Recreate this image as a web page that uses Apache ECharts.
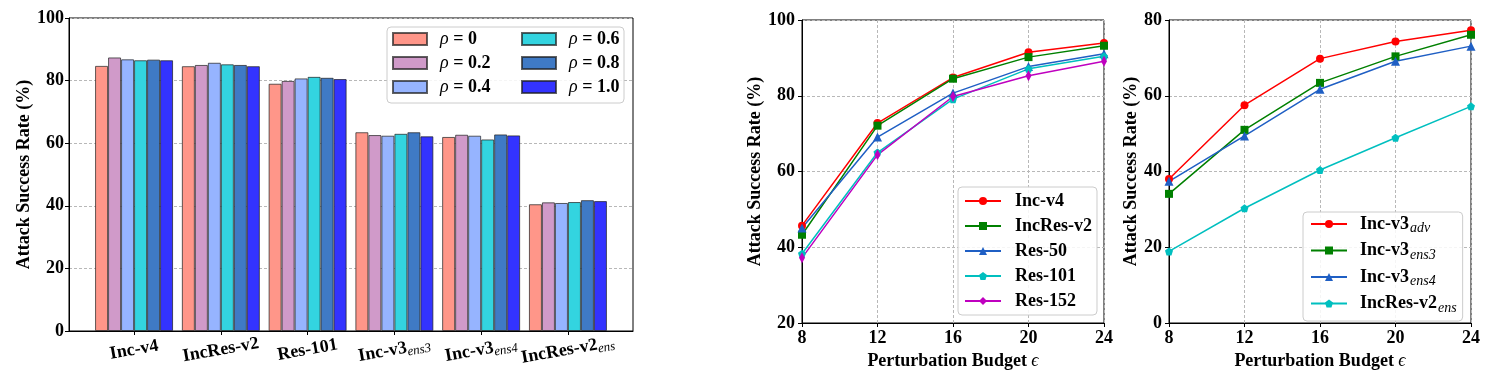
<!DOCTYPE html>
<html>
<head>
<meta charset="utf-8">
<script src="https://cdn.jsdelivr.net/npm/echarts@6/dist/echarts.min.js"></script>
<style>
  html, body { margin: 0; padding: 0; background: #fff; }
  #main { width: 1490px; height: 376px; }
</style>
</head>
<body>
<div id="main"></div>
<script>
// left panel: bars per target model, one series per rho
var categories = ['Inc-v4', 'IncRes-v2', 'Res-101', 'Inc-v3|ens3', 'Inc-v3|ens4', 'IncRes-v2|ens'];
var rhoNames = ['ρ = 0', 'ρ = 0.2', 'ρ = 0.4', 'ρ = 0.6', 'ρ = 0.8', 'ρ = 1.0'];
var rho00 = [84.7, 84.6, 79.0, 63.5, 62.0, 40.5];
var rho02 = [87.4, 85.0, 79.9, 62.6, 62.7, 41.1];
var rho04 = [86.8, 85.7, 80.7, 62.4, 62.4, 40.9];
var rho06 = [86.5, 85.2, 81.2, 63.0, 61.2, 41.2];
var rho08 = [86.7, 85.0, 80.9, 63.5, 62.8, 41.8];
var rho10 = [86.5, 84.6, 80.5, 62.2, 62.5, 41.5];
var barTicks = [0, 20, 40, 60, 80, 100];

// middle / right panels: success rate vs perturbation budget
var budgets = [8, 12, 16, 20, 24];
var incV4 = [45.7, 72.8, 84.8, 91.5, 93.9];
var incResV2 = [43.3, 72.1, 84.5, 90.2, 93.2];
var res50 = [45.1, 69.1, 80.7, 87.7, 91.1];
var res101 = [38.3, 65.0, 79.1, 87.1, 90.4];
var res152 = [37.2, 64.4, 79.8, 85.3, 89.1];
var incV3adv = [38.0, 57.5, 69.8, 74.3, 77.3];
var incV3ens3 = [34.1, 51.0, 63.4, 70.4, 76.1];
var incV3ens4 = [37.4, 49.4, 61.7, 69.1, 73.1];
var incResV2ens = [18.9, 30.3, 40.4, 48.9, 57.2];

var FONT = "'Liberation Serif', 'Times New Roman', serif";
var rich = {
  s: { fontFamily: FONT, fontSize: 14, fontStyle: 'italic', fontWeight: 'normal', color: '#000', padding: [9, 0, 0, 1] },
  r: { fontFamily: FONT, fontSize: 18, fontStyle: 'italic', fontWeight: 'normal', color: '#000' }
};
// axis labels sit close together, keep their subscripts a bit smaller
var axisRich = {
  s: { fontFamily: FONT, fontSize: 13, fontStyle: 'italic', fontWeight: 'normal', color: '#000', padding: [9, 0, 0, 0] }
};
function subLabel(name) {
  var parts = name.split('|');
  return parts.length > 1 ? parts[0] + '{s|' + parts[1] + '}' : name;
}
function pairs(xs, ys) {
  var out = [];
  for (var i = 0; i < ys.length; i++) out.push([xs[i], ys[i]]);
  return out;
}

var chart = echarts.init(document.getElementById('main'), null, { renderer: 'canvas' });

var textBase = { fontFamily: FONT, fontSize: 18, fontWeight: 'bold', color: '#000' };
var gridLine = { show: true, lineStyle: { color: '#b8b8b8', type: [3, 2], width: 1 } };

function lineXAxis(idx) {
  return {
    type: 'value', gridIndex: idx, min: 8, max: 24, interval: 4,
    name: 'Perturbation Budget {e|ϵ}', nameLocation: 'middle', nameGap: 24,
    nameTextStyle: Object.assign({}, textBase, { rich: { e: { fontFamily: FONT, fontSize: 18, fontStyle: 'italic', fontWeight: 'normal' } } }),
    axisLine: { onZero: false, lineStyle: { color: '#000', width: 1 } },
    axisTick: { length: 4, lineStyle: { color: '#000' } },
    axisLabel: Object.assign({}, textBase, { margin: 6 }),
    splitLine: gridLine
  };
}
function lineYAxis(idx, min, max, gap) {
  return {
    type: 'value', gridIndex: idx, min: min, max: max, interval: 20,
    name: 'Attack Success Rate (%)', nameLocation: 'middle', nameGap: gap,
    nameTextStyle: textBase,
    axisLine: { onZero: false, lineStyle: { color: '#000', width: 1 } },
    axisTick: { length: 4, lineStyle: { color: '#000' } },
    axisLabel: Object.assign({}, textBase, { margin: 7 }),
    splitLine: gridLine
  };
}

var barColors = ['#FF9689', '#D09AC9', '#96B4FF', '#33D4E0', '#3F7AC5', '#3333FF'];
var barData = [rho00, rho02, rho04, rho06, rho08, rho10];
var catIdx = categories.map(function (c, i) { return i; });

var series = [];
for (var k = 0; k < barData.length; k++) {
  series.push({
    name: rhoNames[k], type: 'bar', xAxisIndex: 0, yAxisIndex: 0,
    barWidth: 13, barGap: '0%',
    itemStyle: { color: barColors[k], borderColor: 'rgba(30,30,30,0.7)', borderWidth: 1 },
    data: pairs(catIdx, barData[k])
  });
}

function lineSeries(name, data, color, symbol, size, axis) {
  return {
    name: name, type: 'line', xAxisIndex: axis, yAxisIndex: axis,
    data: pairs(budgets, data),
    symbol: symbol, symbolSize: size,
    lineStyle: { color: color, width: 1.5 },
    itemStyle: { color: color },
    z: 3
  };
}
var pentagon = 'path://M0,-1L0.951,-0.309L0.588,0.809L-0.588,0.809L-0.951,-0.309Z';
series.push(lineSeries('Inc-v4', incV4, '#ff0000', 'circle', 8, 1));
series.push(lineSeries('IncRes-v2', incResV2, '#008000', 'rect', 8, 1));
series.push(lineSeries('Res-50', res50, '#1f5fc4', 'triangle', 9, 1));
series.push(lineSeries('Res-101', res101, '#00bfbf', pentagon, 8, 1));
series.push(lineSeries('Res-152', res152, '#bf00bf', 'diamond', [6, 11], 1));
series.push(lineSeries('Inc-v3|adv', incV3adv, '#ff0000', 'circle', 8, 2));
series.push(lineSeries('Inc-v3|ens3', incV3ens3, '#008000', 'rect', 8, 2));
series.push(lineSeries('Inc-v3|ens4', incV3ens4, '#1f5fc4', 'triangle', 9, 2));
series.push(lineSeries('IncRes-v2|ens', incResV2ens, '#00bfbf', pentagon, 8, 2));

var legendText = Object.assign({}, textBase, { rich: rich });

var option = {
  animation: false,
  backgroundColor: '#fff',
  grid: [
    { left: 69, top: 18, width: 564, height: 313, show: true, borderColor: '#000', borderWidth: 1, backgroundColor: 'transparent' },
    { left: 802, top: 20, width: 302, height: 303, show: true, borderColor: '#000', borderWidth: 1, backgroundColor: 'transparent' },
    { left: 1169, top: 20, width: 302, height: 303, show: true, borderColor: '#000', borderWidth: 1, backgroundColor: 'transparent' }
  ],
  xAxis: [
    {
      type: 'value', gridIndex: 0, min: -0.75, max: 5.75,
      axisLine: { onZero: false, lineStyle: { color: '#000', width: 1 } },
      axisTick: { customValues: catIdx, length: 4, lineStyle: { color: '#000' } },
      axisLabel: Object.assign({}, textBase, {
        customValues: catIdx, rotate: 10, align: 'center', verticalAlign: 'middle', margin: 19,
        hideOverlap: false, showMinLabel: true, showMaxLabel: true,
        formatter: function (v) { return subLabel(categories[Math.round(v)]); },
        rich: axisRich
      }),
      splitLine: { show: false }
    },
    lineXAxis(1),
    lineXAxis(2)
  ],
  yAxis: [
    {
      type: 'value', gridIndex: 0, min: barTicks[0], max: barTicks[barTicks.length - 1], interval: 20,
      name: 'Attack Success Rate (%)', nameLocation: 'middle', nameGap: 35,
      nameTextStyle: textBase,
      axisLine: { onZero: false, lineStyle: { color: '#000', width: 1 } },
      axisTick: { length: 4, lineStyle: { color: '#000' } },
      axisLabel: Object.assign({}, textBase, { margin: 5 }),
      splitLine: gridLine
    },
    lineYAxis(1, 20, 100, 38),
    lineYAxis(2, 0, 80, 28)
  ],
  legend: [
    {
      data: rhoNames.slice(0, 3), orient: 'vertical', left: 392, top: 30, padding: 0,
      itemWidth: 34, itemHeight: 12, itemGap: 6, icon: 'rect',
      textStyle: Object.assign({}, legendText, { padding: [0, 0, 0, 8] }),
      formatter: function (n) { return '{r|ρ}' + n.slice(1); }
    },
    {
      data: rhoNames.slice(3), orient: 'vertical', left: 521, top: 30, padding: 0,
      itemWidth: 34, itemHeight: 12, itemGap: 6, icon: 'rect',
      textStyle: Object.assign({}, legendText, { padding: [0, 0, 0, 8] }),
      formatter: function (n) { return '{r|ρ}' + n.slice(1); }
    },
    {
      data: ['Inc-v4', 'IncRes-v2', 'Res-50', 'Res-101', 'Res-152'],
      orient: 'vertical', left: 958, top: 187, padding: [5, 5, 5, 6],
      itemWidth: 36, itemHeight: 10, itemGap: 7,
      backgroundColor: 'rgba(255,255,255,0.85)', borderColor: '#cccccc', borderWidth: 1, borderRadius: 4,
      textStyle: Object.assign({}, legendText, { padding: [0, 0, 0, 9] })
    },
    {
      data: ['Inc-v3|adv', 'Inc-v3|ens3', 'Inc-v3|ens4', 'IncRes-v2|ens'],
      orient: 'vertical', left: 1303, top: 212, padding: [3, 6, 6, 7],
      itemWidth: 36, itemHeight: 10, itemGap: 6,
      backgroundColor: 'rgba(255,255,255,0.85)', borderColor: '#cccccc', borderWidth: 1, borderRadius: 4,
      textStyle: Object.assign({}, legendText, { padding: [0, 0, 0, 8] }),
      formatter: subLabel
    }
  ],
  graphic: [
    {
      type: 'rect', z: 3, silent: true,
      shape: { x: 387, y: 27, width: 237, height: 76, r: 4 },
      style: { fill: 'rgba(255,255,255,0.85)', stroke: '#cccccc', lineWidth: 1 }
    }
  ],
  series: series
};

chart.setOption(option);
</script>
</body>
</html>
